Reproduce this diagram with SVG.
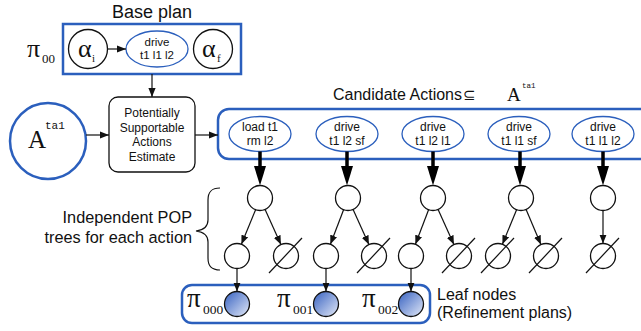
<svg xmlns="http://www.w3.org/2000/svg" width="641" height="331" viewBox="0 0 641 331">
<style>
.sans{font-family:"Liberation Sans",Arial,sans-serif;fill:#111}
.serif{font-family:"Liberation Serif","Times New Roman",serif;fill:#111}
.mono{font-family:"Liberation Mono","Courier New",monospace;fill:#111}
.blue{fill:none;stroke:#2b5fbd;stroke-width:2.5}
.ell{fill:#fff;stroke:#2b5fbd;stroke-width:1.3}
.node{fill:#fff;stroke:#111;stroke-width:1.3}
.leaf{fill:url(#lg);stroke:#111;stroke-width:1.3}
.thin{stroke:#111;stroke-width:1.2;fill:none;marker-end:url(#ah)}
.thick{stroke:#000;stroke-width:3.5}
.slash{stroke:#111;stroke-width:1.2}
.t11{font-size:12px}
</style>
<defs>
<marker id="ah" viewBox="0 0 10 8" refX="10" refY="4" markerWidth="9" markerHeight="8" markerUnits="userSpaceOnUse" orient="auto"><path d="M0,0 L10,4 L0,8 z" fill="#111"/></marker>
<linearGradient id="lg" x1="0" y1="0" x2="1" y2="1"><stop offset="0" stop-color="#3560c0"/><stop offset="1" stop-color="#e4eaf8"/></linearGradient>
</defs>

<g id="base-plan">
<text class="sans" x="152" y="18" font-size="18" text-anchor="middle">Base plan</text>
<rect class="blue" x="63" y="24" width="178" height="50"/>
<text class="serif" x="27" y="57" font-size="26">π</text>
<text class="serif" x="42" y="63" font-size="13">00</text>
</g>
<g id="alpha-i">
<circle class="node" cx="88" cy="49" r="19.5"/>
<text class="serif" x="78" y="57" font-size="26">α</text>
<text class="serif" x="92" y="62" font-size="11">i</text>
</g>
<g id="base-drive">
<ellipse class="ell" cx="157" cy="49" rx="31" ry="18"/>
<text class="sans" x="157" y="46" font-size="11.5" text-anchor="middle">drive</text>
<text class="sans" x="157" y="58.5" font-size="11.5" text-anchor="middle">t1 l1 l2</text>
</g>
<g id="alpha-f">
<circle class="node" cx="213" cy="49" r="19.5"/>
<text class="serif" x="202" y="57" font-size="26">α</text>
<text class="serif" x="217" y="62" font-size="11">f</text>
</g>

<g id="A-ta1">
<circle cx="48" cy="141" r="38" fill="#fff" stroke="#2b5fbd" stroke-width="2.5"/>
<text class="serif" x="28" y="148" font-size="25">A</text>
<text class="mono" x="45" y="129" font-size="11">ta1</text>
</g>
<g id="psae">
<rect class="node" x="109" y="97" width="86" height="75" rx="9"/>
<text class="sans" font-size="12" text-anchor="middle"><tspan x="152" y="117">Potentially</tspan><tspan x="152" y="131.5">Supportable</tspan><tspan x="152" y="146">Actions</tspan><tspan x="152" y="160.5">Estimate</tspan></text>
</g>

<g id="candidates">
<text class="sans" x="333" y="100" font-size="16">Candidate Actions</text>
<text class="serif" x="463" y="100" font-size="15">⊆</text>
<text class="serif" x="507" y="101" font-size="19">A</text>
<text class="mono" x="522" y="88" font-size="7.5">ta1</text>
<rect class="blue" x="218" y="109" width="440" height="50" rx="11"/>
</g>
<g id="c1"><ellipse class="ell" cx="260" cy="134" rx="31" ry="17.5"/><text class="sans t11" x="260" y="131" text-anchor="middle">load t1</text><text class="sans t11" x="260" y="145" text-anchor="middle">rm l2</text></g>
<g id="c2"><ellipse class="ell" cx="347" cy="134" rx="31" ry="17.5"/><text class="sans t11" x="347" y="131" text-anchor="middle">drive</text><text class="sans t11" x="347" y="145" text-anchor="middle">t1 l2 sf</text></g>
<g id="c3"><ellipse class="ell" cx="433" cy="134" rx="31" ry="17.5"/><text class="sans t11" x="433" y="131" text-anchor="middle">drive</text><text class="sans t11" x="433" y="145" text-anchor="middle">t1 l2 l1</text></g>
<g id="c4"><ellipse class="ell" cx="519" cy="134" rx="31" ry="17.5"/><text class="sans t11" x="519" y="131" text-anchor="middle">drive</text><text class="sans t11" x="519" y="145" text-anchor="middle">t1 l1 sf</text></g>
<g id="c5"><ellipse class="ell" cx="603" cy="134" rx="31" ry="17.5"/><text class="sans t11" x="603" y="131" text-anchor="middle">drive</text><text class="sans t11" x="603" y="145" text-anchor="middle">t1 l1 l2</text></g>

<g id="brace-label">
<path d="M220,188 C211,188 208,192 208,200 L208,220 C208,227 204,230 196,231 C204,232 208,235 208,242 L208,258 C208,266 211,270 220,270" fill="none" stroke="#111" stroke-width="1.2"/>
<text class="sans" x="192" y="223" font-size="16.3" text-anchor="end">Independent POP</text>
<text class="sans" x="192" y="243" font-size="16.3" text-anchor="end">trees for each action</text>
</g>

<g id="tree-nodes">
<circle class="node" cx="260" cy="198" r="12.5"/>
<circle class="node" cx="237" cy="256" r="12.5"/>
<circle class="node" cx="286" cy="256" r="12.5"/><line class="slash" x1="269" y1="273" x2="302" y2="238"/>
<circle class="node" cx="348" cy="198" r="12.5"/>
<circle class="node" cx="326" cy="256" r="12.5"/>
<circle class="node" cx="374" cy="256" r="12.5"/><line class="slash" x1="357" y1="273" x2="390" y2="238"/>
<circle class="node" cx="433" cy="198" r="12.5"/>
<circle class="node" cx="411" cy="256" r="12.5"/>
<circle class="node" cx="459" cy="256" r="12.5"/><line class="slash" x1="442" y1="273" x2="475" y2="238"/>
<circle class="node" cx="521" cy="198" r="12.5"/>
<circle class="node" cx="498" cy="256" r="12.5"/><line class="slash" x1="481" y1="273" x2="514" y2="238"/>
<circle class="node" cx="546" cy="256" r="12.5"/><line class="slash" x1="529" y1="273" x2="562" y2="238"/>
<circle class="node" cx="603" cy="198" r="12.5"/>
<circle class="node" cx="603" cy="256" r="12.5"/><line class="slash" x1="586" y1="273" x2="619" y2="238"/>
</g>

<g id="leaves">
<rect class="blue" x="182" y="285" width="248" height="38" rx="10"/>
<text class="serif" x="187" y="307" font-size="27">π</text><text class="serif" x="203" y="314" font-size="13.5">000</text>
<circle class="leaf" cx="237" cy="304" r="12.5"/>
<text class="serif" x="277" y="307" font-size="27">π</text><text class="serif" x="293" y="314" font-size="13.5">001</text>
<circle class="leaf" cx="326" cy="304" r="12.5"/>
<text class="serif" x="362" y="307" font-size="27">π</text><text class="serif" x="378" y="314" font-size="13.5">002</text>
<circle class="leaf" cx="411" cy="304" r="12.5"/>
<text class="sans" x="437" y="300" font-size="16">Leaf nodes</text>
<text class="sans" x="437" y="318" font-size="16">(Refinement plans)</text>
</g>

<g id="connectors">
<line class="thin" x1="108" y1="49" x2="126" y2="49"/>
<line class="thin" x1="152" y1="74" x2="152" y2="97"/>
<line class="thin" x1="86" y1="135" x2="109" y2="135"/>
<line class="thin" x1="195" y1="135" x2="218" y2="135"/>
<g fill="#000">
<line class="thick" x1="260" y1="151.5" x2="260" y2="170"/><polygon points="254,166 266,166 260,185.5"/>
<line class="thick" x1="347" y1="151.5" x2="347" y2="170"/><polygon points="341,166 353,166 347,185.5"/>
<line class="thick" x1="433" y1="151.5" x2="433" y2="170"/><polygon points="427,166 439,166 433,185.5"/>
<line class="thick" x1="520" y1="151.5" x2="520" y2="170"/><polygon points="514,166 526,166 520,185.5"/>
<line class="thick" x1="603" y1="151.5" x2="603" y2="170"/><polygon points="597,166 609,166 603,185.5"/>
</g>
<line class="thin" x1="255.6" y1="209.7" x2="241.4" y2="244.3"/>
<line class="thin" x1="265.1" y1="209.4" x2="280.9" y2="244.6"/>
<line class="thin" x1="343.6" y1="209.7" x2="330.4" y2="244.3"/>
<line class="thin" x1="353.1" y1="209.4" x2="368.9" y2="244.6"/>
<line class="thin" x1="428.6" y1="209.7" x2="415.4" y2="244.3"/>
<line class="thin" x1="438.1" y1="209.4" x2="453.9" y2="244.6"/>
<line class="thin" x1="516.6" y1="209.7" x2="502.4" y2="244.3"/>
<line class="thin" x1="526.1" y1="209.4" x2="540.9" y2="244.6"/>
<line class="thin" x1="603" y1="210.5" x2="603" y2="243.5"/>
<line class="thin" x1="237" y1="268.5" x2="237" y2="291.5"/>
<line class="thin" x1="326" y1="268.5" x2="326" y2="291.5"/>
<line class="thin" x1="411" y1="268.5" x2="411" y2="291.5"/>
</g>
</svg>
